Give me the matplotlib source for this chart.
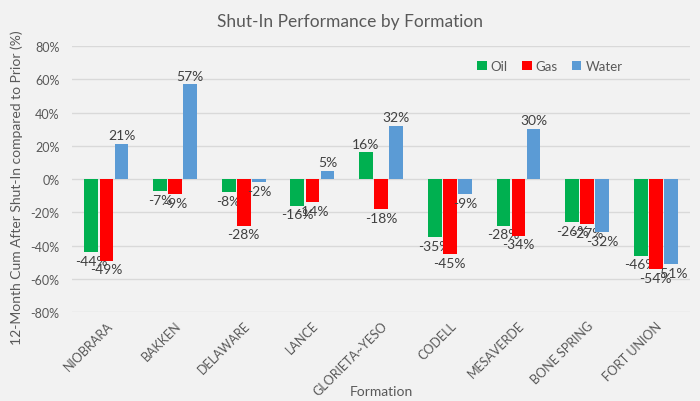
import numpy as np
import matplotlib.pyplot as plt

plt.rcParams["font.family"] = ["Lato", "DejaVu Sans"]

formations = ["NIOBRARA", "BAKKEN", "DELAWARE", "LANCE", "GLORIETA~YESO",
              "CODELL", "MESAVERDE", "BONE SPRING", "FORT UNION"]
oil = [-44, -7, -8, -16, 16, -35, -28, -26, -46]
gas = [-49, -9, -28, -14, -18, -45, -34, -27, -54]
water = [21, 57, -2, 5, 32, -9, 30, -32, -51]

series = [("Oil", oil, "#00b050"), ("Gas", gas, "#ff0000"), ("Water", water, "#5b9bd5")]

bg = "#f2f2f2"
txt = "#595959"

fig = plt.figure(figsize=(7, 4.02), dpi=100, facecolor=bg)
ax = fig.add_axes([0.103, 0.221, 0.883, 0.662], facecolor=bg)

x = np.arange(len(formations))
w = 0.2
gap = 0.02
for i, (name, vals, color) in enumerate(series):
    pos = x + (i - 1) * (w + gap)
    bars = ax.bar(pos, vals, w, color=color, label=name, zorder=3)
    ax.bar_label(bars, labels=[f"{v}%" for v in vals], padding=2,
                 fontsize=10, color="#404040")

ax.set_xlim(-0.5, len(formations) - 0.5)
ax.set_ylim(-80, 80)
ax.set_yticks(range(-80, 81, 20))
ax.set_yticklabels([f"{t}%" for t in range(-80, 81, 20)])
ax.grid(axis="y", color="#d9d9d9", linewidth=1, zorder=0)
for s in ax.spines.values():
    s.set_visible(False)
ax.tick_params(axis="y", length=0, colors=txt, labelsize=9, pad=9)
ax.tick_params(axis="x", length=0, colors=txt, labelsize=9, pad=5)
ax.set_xticks(x)
ax.set_xticklabels(formations, rotation=45, ha="right", rotation_mode="anchor")

fig.suptitle("Shut-In Performance by Formation", fontsize=12.5, color=txt, x=0.5, y=0.965)
ax.set_xlabel("Formation", fontsize=10, color=txt)
ax.xaxis.set_label_coords(0.5, -0.297)
ax.xaxis.label.set_va("center")
ax.set_ylabel("12-Month Cum After Shut-In compared to Prior (%)", fontsize=10, color=txt)
ax.yaxis.set_label_coords(-0.08, 0.47)

leg = ax.legend(loc="center", bbox_to_anchor=(0.773, 0.925), ncol=3, frameon=False,
                fontsize=9.5, handlelength=0.7, handleheight=0.7, columnspacing=1.1,
                handletextpad=0.3)
for t in leg.get_texts():
    t.set_color(txt)

fig.savefig("out.png", dpi=100, facecolor=bg)
